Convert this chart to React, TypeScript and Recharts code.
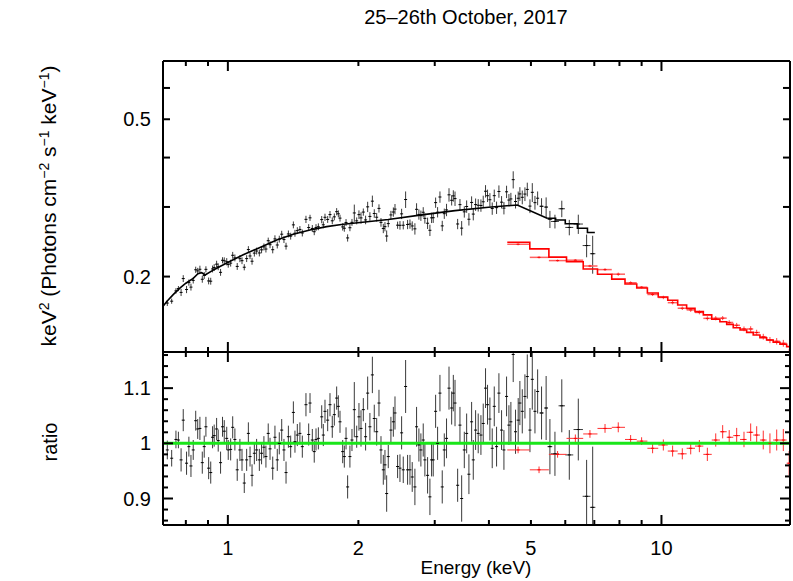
import React from "react"
import { ComposedChart, Scatter, Line, XAxis, YAxis, ErrorBar, ReferenceLine } from "recharts"

// black spectrum (0.7 - 5.2 keV): energy, flux, data/model ratio, relative error
const blackE = [
  0.725, 0.742, 0.759, 0.769, 0.78, 0.789, 0.803, 0.813, 0.822, 0.832,
  0.843, 0.852, 0.862, 0.873, 0.882, 0.89, 0.903, 0.913, 0.922, 0.93,
  0.942, 0.95, 0.962, 0.972, 0.981, 0.994, 1.002, 1.015, 1.026, 1.038,
  1.051, 1.066, 1.078, 1.091, 1.105, 1.115, 1.125, 1.137, 1.151, 1.165,
  1.182, 1.196, 1.211, 1.224, 1.239, 1.251, 1.269, 1.284, 1.3, 1.314,
  1.331, 1.347, 1.362, 1.379, 1.396, 1.416, 1.428, 1.446, 1.466, 1.485,
  1.514, 1.536, 1.547, 1.566, 1.582, 1.597, 1.617, 1.646, 1.66, 1.675,
  1.699, 1.72, 1.741, 1.76, 1.782, 1.798, 1.814, 1.84, 1.856, 1.873,
  1.889, 1.912, 1.933, 1.957, 1.982,
  2.006, 2.028, 2.053, 2.078, 2.101, 2.126, 2.154, 2.176, 2.204, 2.231,
  2.255, 2.283, 2.303, 2.324, 2.344, 2.377, 2.408, 2.429, 2.463, 2.494,
  2.516, 2.538, 2.57, 2.597, 2.63, 2.662, 2.7, 2.724, 2.758, 2.787,
  2.822, 2.847, 2.888, 2.924, 2.95, 2.976, 3.014, 3.046, 3.084, 3.122,
  3.156, 3.194, 3.236, 3.282, 3.311, 3.341, 3.388, 3.43, 3.461, 3.51,
  3.554, 3.597, 3.649, 3.681, 3.727, 3.779, 3.834, 3.881, 3.929, 3.971,
  4.021, 4.071, 4.115, 4.166, 4.218, 4.278, 4.332, 4.393, 4.448, 4.495,
  4.551, 4.607, 4.673, 4.715, 4.775, 4.843, 4.904, 4.974, 5.036, 5.108, 5.181,
]
const blackFlux = [
  0.1714, 0.1733, 0.184, 0.1865, 0.1824, 0.1977, 0.1855, 0.1931, 0.1881, 0.1956,
  0.2081, 0.2067, 0.2087, 0.1969, 0.2013, 0.2086, 0.195, 0.1947, 0.2091, 0.2108,
  0.215, 0.2118, 0.205, 0.2199, 0.2193, 0.2181, 0.2145, 0.2163, 0.2264, 0.223,
  0.2122, 0.222, 0.2194, 0.2112, 0.2221, 0.2341, 0.2255, 0.2187, 0.2293, 0.2321,
  0.2295, 0.2337, 0.2377, 0.2348, 0.2465, 0.2408, 0.2339, 0.2491, 0.2404, 0.2488,
  0.256, 0.2481, 0.2388, 0.2564, 0.2531, 0.2703, 0.2574, 0.2614, 0.2632, 0.2578,
  0.2791, 0.2661, 0.2816, 0.2647, 0.2597, 0.2661, 0.2673, 0.2787, 0.2704, 0.2825,
  0.279, 0.287, 0.2768, 0.2832, 0.2919, 0.2883, 0.2811, 0.2671, 0.265, 0.2741,
  0.2505, 0.2658, 0.2743, 0.2897, 0.2767,
  0.2869, 0.2815, 0.2912, 0.2782, 0.3002, 0.2839, 0.3103, 0.2888, 0.2826, 0.2975,
  0.2743, 0.2647, 0.2675, 0.2533, 0.2723, 0.2864, 0.2913, 0.2963, 0.2698, 0.2696,
  0.2882, 0.2697, 0.3133, 0.2709, 0.2716, 0.2686, 0.2641, 0.2959, 0.2872, 0.2852,
  0.2909, 0.2807, 0.2729, 0.2619, 0.2816, 0.2818, 0.3077, 0.291, 0.3179, 0.2687,
  0.2885, 0.2949, 0.322, 0.3119, 0.32, 0.315, 0.2717, 0.3041, 0.2652, 0.2916,
  0.3008, 0.2793, 0.308, 0.2878, 0.3042, 0.303, 0.3026, 0.3092, 0.3288, 0.3203,
  0.3129, 0.2973, 0.3204, 0.2988, 0.3283, 0.3085, 0.298, 0.3277, 0.3123, 0.3144,
  0.3517, 0.3097, 0.3156, 0.3237, 0.3174, 0.3234, 0.3323, 0.3015, 0.3267, 0.3076, 0.3157,
]
const blackRatio = [
  0.988, 0.973, 1.007, 1.006, 0.97, 1.042, 0.964, 0.994, 0.959, 0.988,
  1.041, 1.026, 1.027, 0.965, 0.994, 1.03, 0.955, 0.947, 1.011, 1.014,
  1.026, 1.005, 0.965, 1.03, 1.022, 1.009, 0.988, 0.989, 1.029, 1.007,
  0.952, 0.988, 0.97, 0.928, 0.97, 1.018, 0.976, 0.942, 0.982, 0.988,
  0.97, 0.982, 0.993, 0.976, 1.018, 0.99, 0.955, 1.011, 0.97, 1.0,
  1.024, 0.988, 0.947, 1.012, 0.994, 1.056, 1.003, 1.015, 1.018, 0.994,
  1.07, 1.016, 1.073, 1.006, 0.985, 1.007, 1.009, 1.048, 1.015, 1.058,
  1.042, 1.07, 1.03, 1.052, 1.082, 1.067, 1.039, 0.985, 0.976, 1.009,
  0.921, 0.976, 1.006, 1.061, 1.012,
  1.048, 1.027, 1.061, 1.012, 1.091, 1.03, 1.124, 1.045, 1.021, 1.073,
  0.988, 0.952, 0.961, 0.909, 0.976, 1.024, 1.039, 1.055, 0.958, 0.955,
  1.019, 0.952, 1.103, 0.952, 0.952, 0.939, 0.921, 1.03, 0.997, 0.988,
  1.006, 0.97, 0.942, 0.903, 0.97, 0.97, 1.058, 1.0, 1.091, 0.921,
  0.988, 1.009, 1.1, 1.064, 1.091, 1.073, 0.924, 1.033, 0.9, 0.988,
  1.018, 0.944, 1.039, 0.97, 1.024, 1.018, 1.015, 1.036, 1.1, 1.07,
  1.044, 0.991, 1.067, 0.994, 1.091, 1.024, 0.988, 1.085, 1.033, 1.039,
  1.161, 1.021, 1.042, 1.073, 1.058, 1.085, 1.121, 1.024, 1.116, 1.058, 1.094,
]
const blackErr = [
  0.017, 0.015, 0.016, 0.015, 0.021, 0.02, 0.021, 0.018, 0.02, 0.018,
  0.018, 0.018, 0.021, 0.02, 0.02, 0.018, 0.02, 0.02, 0.02, 0.02,
  0.02, 0.02, 0.02, 0.018, 0.02, 0.021, 0.018, 0.02, 0.02, 0.02,
  0.02, 0.02, 0.02, 0.018, 0.02, 0.02, 0.018, 0.02, 0.02, 0.02,
  0.02, 0.02, 0.02, 0.02, 0.018, 0.02, 0.021, 0.021, 0.02, 0.02,
  0.02, 0.02, 0.02, 0.02, 0.02, 0.02, 0.02, 0.02, 0.02, 0.02,
  0.021, 0.02, 0.018, 0.02, 0.02, 0.02, 0.02, 0.021, 0.02, 0.021,
  0.02, 0.021, 0.02, 0.02, 0.021, 0.02, 0.02, 0.021, 0.02, 0.02,
  0.021, 0.02, 0.02, 0.05, 0.02,
  0.025, 0.033, 0.021, 0.025, 0.03, 0.025, 0.033, 0.025, 0.025, 0.024,
  0.025, 0.027, 0.027, 0.033, 0.021, 0.024, 0.027, 0.03, 0.021, 0.025,
  0.03, 0.024, 0.048, 0.027, 0.027, 0.027, 0.033, 0.036, 0.03, 0.03,
  0.03, 0.03, 0.033, 0.033, 0.03, 0.03, 0.03, 0.03, 0.033, 0.03,
  0.03, 0.036, 0.039, 0.03, 0.033, 0.042, 0.03, 0.033, 0.042, 0.033,
  0.036, 0.036, 0.036, 0.036, 0.036, 0.036, 0.036, 0.036, 0.036, 0.036,
  0.039, 0.036, 0.036, 0.036, 0.036, 0.036, 0.036, 0.036, 0.036, 0.036,
  0.05, 0.04, 0.04, 0.04, 0.04, 0.04, 0.04, 0.04, 0.055, 0.04, 0.04,
]

// black spectrum, wider bins above 5.2 keV
const blackHiE = [5.29, 5.42, 5.53, 5.68, 5.89, 6.13, 6.43, 6.72, 6.94]
const blackHiBin = [0.06, 0.05, 0.07, 0.12, 0.1, 0.13, 0.16, 0.14, 0.1]
const blackHiFlux = [0.3012, 0.2998, 0.2793, 0.2757, 0.2969, 0.2663, 0.2716, 0.2396, 0.2285]
const blackHiRatio = [1.055, 1.064, 0.994, 0.981, 1.068, 0.979, 1.025, 0.904, 0.884]
const blackHiErr = [0.048, 0.058, 0.05, 0.04, 0.048, 0.045, 0.056, 0.066, 0.11]

// black model
const blackModelE = [0.708, 0.723, 0.748, 0.775, 0.8, 0.832, 0.853, 0.87, 0.886, 0.931, 0.959, 1.015, 1.085, 1.186, 1.296, 1.415, 1.546, 1.69, 1.845, 2.02, 2.344, 2.8, 3.34, 3.99, 4.65, 5.45]
const blackModelF = [0.168, 0.173, 0.18, 0.187, 0.1924, 0.198, 0.2035, 0.2046, 0.2019, 0.2085, 0.212, 0.219, 0.227, 0.237, 0.2475, 0.256, 0.2624, 0.2675, 0.2713, 0.274, 0.279, 0.2865, 0.2936, 0.2995, 0.3035, 0.281]
const blackStepE = [5.45, 5.7, 6.0, 6.4, 6.75, 7.02]
const blackStepF = [0.281, 0.278, 0.272, 0.265, 0.2585, 0.2585]

// red spectrum: bin edges, model per bin, data
const redEdges = [4.41, 4.97, 5.5, 6.04, 6.6, 7.12, 7.68, 8.24, 8.77, 9.28, 9.83, 10.34, 10.9, 11.43, 11.95, 12.49, 13.06, 13.64, 14.14, 14.64, 15.18, 15.72, 16.28, 16.87, 17.48, 18.1, 18.76, 19.44, 20.1]
const redModel = [0.2443, 0.235, 0.224, 0.218, 0.2091, 0.2028, 0.1971, 0.1916, 0.1872, 0.1818, 0.1776, 0.1742, 0.1695, 0.1662, 0.1631, 0.16, 0.156, 0.1538, 0.1514, 0.1485, 0.1465, 0.1445, 0.1423, 0.1401, 0.1382, 0.1364, 0.1348, 0.133]
const redE = [4.67, 5.22, 5.76, 6.33, 6.84, 7.41, 7.95, 8.49, 9.0, 9.54, 10.1, 10.61, 11.17, 11.68, 12.23, 12.76, 13.34, 13.84, 14.33, 14.91, 15.5, 16.06, 16.58, 17.17, 17.79, 18.44, 19.1, 19.7]
const redFlux = [0.2414, 0.2237, 0.2195, 0.22, 0.2127, 0.2083, 0.2028, 0.1929, 0.188, 0.1802, 0.1771, 0.1718, 0.1663, 0.1647, 0.1623, 0.1568, 0.1569, 0.157, 0.1531, 0.1506, 0.1475, 0.1474, 0.1444, 0.1409, 0.1382, 0.1372, 0.1356, 0.1282]
const redRatio = [0.988, 0.952, 0.98, 1.009, 1.017, 1.027, 1.029, 1.007, 1.004, 0.991, 0.997, 0.986, 0.981, 0.991, 0.995, 0.98, 1.006, 1.021, 1.011, 1.014, 1.007, 1.02, 1.015, 1.006, 1.0, 1.006, 1.006, 0.964]
const redErr = [0.006, 0.006, 0.006, 0.007, 0.007, 0.008, 0.009, 0.008, 0.007, 0.009, 0.01, 0.01, 0.01, 0.011, 0.011, 0.012, 0.012, 0.012, 0.013, 0.014, 0.014, 0.016, 0.016, 0.017, 0.018, 0.019, 0.02, 0.022]

// axes
const xDomain = [0.7086, 19.79]
const xTicks = [0.8, 0.9, 1, 2, 3, 4, 5, 6, 7, 8, 9, 10]
const xLabels = [1, 2, 5, 10]
const xMajor = [1, 10]
const fluxDomain = [0.1289, 0.702]
const fluxTicks = [0.2, 0.3, 0.4, 0.5, 0.6]
const fluxLabels = [0.2, 0.5]
const ratioDomain = [0.852, 1.1655]
const ratioTicks = [0.86, 0.88, 0.9, 0.92, 0.94, 0.96, 0.98, 1, 1.02, 1.04, 1.06, 1.08, 1.1, 1.12, 1.14, 1.16]
const ratioLabels = [0.9, 1, 1.1]
const ratioMajor = [0.9, 1, 1.1]

const FONT = "'Liberation Sans', Arial, Helvetica, sans-serif"
const FS = 20

const blackTop = blackE.map((x, i) => ({ x, y: blackFlux[i], ey: blackFlux[i] * blackErr[i] }))
const blackBot = blackE.map((x, i) => ({ x, y: blackRatio[i], ey: blackErr[i] }))
const blackHiTop = blackHiE.map((x, i) => ({ x, y: blackHiFlux[i], ey: blackHiFlux[i] * blackHiErr[i], ex: blackHiBin[i] }))
const blackHiBot = blackHiE.map((x, i) => ({ x, y: blackHiRatio[i], ey: blackHiErr[i], ex: blackHiBin[i] }))
const blackModel = blackModelE.map((x, i) => ({ x, y: blackModelF[i] }))
const blackStep = blackStepE.map((x, i) => ({ x, y: blackStepF[i] }))
const redBins = redE.map((x, i) => [x - redEdges[i], redEdges[i + 1] - x])
const redTop = redE.map((x, i) => ({ x, y: redFlux[i], ey: redFlux[i] * redErr[i], ex: redBins[i] }))
const redBot = redE.map((x, i) => ({ x, y: redRatio[i], ey: redErr[i], ex: redBins[i] }))
const redStep = redEdges.map((x, i) => ({ x, y: redModel[Math.min(i, redModel.length - 1)] }))

type Side = "top" | "bottom" | "left" | "right"

function makeTick(side: Side, major: number[], labels: number[], majorLen: number, minorLen: number) {
  return (p: any) => {
    const v = p.payload.value
    const len = major.includes(v) ? majorLen : minorLen
    const { x, y } = p
    let x2 = x
    let y2 = y
    if (side === "bottom") y2 = y - len
    if (side === "top") y2 = y + len
    if (side === "left") x2 = x + len
    if (side === "right") x2 = x - len
    let label = null
    if (labels.includes(v)) {
      if (side === "bottom")
        label = <text x={x} y={y + 30} textAnchor="middle" fontSize={FS} fontFamily={FONT} fill="#000">{v}</text>
      if (side === "left")
        label = <text x={x - 12} y={y + 7} textAnchor="end" fontSize={FS} fontFamily={FONT} fill="#000">{v}</text>
    }
    return (
      <g>
        <line x1={x} y1={y} x2={x2} y2={y2} stroke="#000" strokeWidth={2} />
        {label}
      </g>
    )
  }
}

const Dash = (color: string) => (p: any) =>
  <line x1={p.cx - 1.5} x2={p.cx + 1.5} y1={p.cy} y2={p.cy} stroke={color} strokeWidth={1} />

const axisLine = { stroke: "#000", strokeWidth: 2 }

// axes need a non-zero size or recharts skips them; margins below absorb the 1px
function xAxes(bottomLabels: number[]) {
  return [
    <XAxis key="b" xAxisId="b" dataKey="x" type="number" scale="log" domain={xDomain} allowDataOverflow
      ticks={xTicks} interval={0} height={1} tickSize={0} tickMargin={0} axisLine={axisLine} tickLine={false}
      tick={makeTick("bottom", xMajor, bottomLabels, 10, 5)} />,
    <XAxis key="t" xAxisId="t" orientation="top" dataKey="x" type="number" scale="log" domain={xDomain} allowDataOverflow
      ticks={xTicks} interval={0} height={1} tickSize={0} tickMargin={0} axisLine={axisLine} tickLine={false}
      tick={makeTick("top", xMajor, [], 10, 5)} />,
  ]
}

function TopPanel() {
  return (
    <ComposedChart width={793} height={362} margin={{ top: 60, right: 2, bottom: 9, left: 162 }}>
      {xAxes([])}
      <YAxis yAxisId="l" dataKey="y" type="number" scale="log" domain={fluxDomain} allowDataOverflow
        ticks={fluxTicks} interval={0} width={1} tickSize={0} tickMargin={0} axisLine={axisLine} tickLine={false}
        tick={makeTick("left", [], fluxLabels, 7, 7)} />
      <YAxis yAxisId="r" orientation="right" dataKey="y" type="number" scale="log" domain={fluxDomain} allowDataOverflow
        ticks={fluxTicks} interval={0} width={1} tickSize={0} tickMargin={0} axisLine={axisLine} tickLine={false}
        tick={makeTick("right", [], [], 7, 7)} />
      <Scatter data={blackTop} xAxisId="b" yAxisId="l" shape={Dash("#000")} isAnimationActive={false}>
        <ErrorBar dataKey="ey" direction="y" width={0} stroke="#3a3a3a" strokeWidth={1} />
      </Scatter>
      <Scatter data={blackHiTop} xAxisId="b" yAxisId="l" shape={Dash("#000")} isAnimationActive={false}>
        <ErrorBar dataKey="ey" direction="y" width={0} stroke="#3a3a3a" strokeWidth={1} />
        <ErrorBar dataKey="ex" direction="x" width={0} stroke="#3a3a3a" strokeWidth={1} />
      </Scatter>
      <Scatter data={redTop} xAxisId="b" yAxisId="l" shape={Dash("#ff0000")} isAnimationActive={false}>
        <ErrorBar dataKey="ey" direction="y" width={0} stroke="#ff4040" strokeWidth={1} />
        <ErrorBar dataKey="ex" direction="x" width={0} stroke="#ff6060" strokeWidth={1.5} />
      </Scatter>
      <Line data={blackModel} dataKey="y" xAxisId="b" yAxisId="l" type="linear" dot={false} stroke="#000" strokeWidth={1.6} isAnimationActive={false} />
      <Line data={blackStep} dataKey="y" xAxisId="b" yAxisId="l" type="stepAfter" dot={false} stroke="#000" strokeWidth={1.6} isAnimationActive={false} />
      <Line data={redStep} dataKey="y" xAxisId="b" yAxisId="l" type="stepAfter" dot={false} stroke="#ff0000" strokeWidth={1.6} isAnimationActive={false} />
    </ComposedChart>
  )
}

function RatioPanel() {
  return (
    <ComposedChart width={793} height={241} margin={{ top: 11, right: 2, bottom: 55, left: 162 }}>
      {xAxes(xLabels)}
      <YAxis yAxisId="l" dataKey="y" type="number" domain={ratioDomain} allowDataOverflow
        ticks={ratioTicks} interval={0} width={1} tickSize={0} tickMargin={0} axisLine={axisLine} tickLine={false}
        tick={makeTick("left", ratioMajor, ratioLabels, 10, 5)} />
      <YAxis yAxisId="r" orientation="right" dataKey="y" type="number" domain={ratioDomain} allowDataOverflow
        ticks={ratioTicks} interval={0} width={1} tickSize={0} tickMargin={0} axisLine={axisLine} tickLine={false}
        tick={makeTick("right", ratioMajor, [], 10, 5)} />
      <Scatter data={blackBot} xAxisId="b" yAxisId="l" shape={Dash("#000")} isAnimationActive={false}>
        <ErrorBar dataKey="ey" direction="y" width={0} stroke="#3a3a3a" strokeWidth={1} />
      </Scatter>
      <Scatter data={blackHiBot} xAxisId="b" yAxisId="l" shape={Dash("#000")} isAnimationActive={false}>
        <ErrorBar dataKey="ey" direction="y" width={0} stroke="#3a3a3a" strokeWidth={1} />
        <ErrorBar dataKey="ex" direction="x" width={0} stroke="#3a3a3a" strokeWidth={1} />
      </Scatter>
      <Scatter data={redBot} xAxisId="b" yAxisId="l" shape={Dash("#ff0000")} isAnimationActive={false}>
        <ErrorBar dataKey="ey" direction="y" width={0} stroke="#ff3030" strokeWidth={1} />
        <ErrorBar dataKey="ex" direction="x" width={0} stroke="#ff3030" strokeWidth={1} />
      </Scatter>
      <ReferenceLine y={1} xAxisId="b" yAxisId="l" stroke="#19e619" strokeWidth={3} />
    </ComposedChart>
  )
}

// error bars are not clipped by recharts, so clip the data layers to each plot box
const clipCss = `
.panel-top .recharts-scatter, .panel-top [class*="recharts-errorBar"], .panel-top .recharts-line { clip-path: url(#clipTop); }
.panel-ratio .recharts-scatter, .panel-ratio [class*="recharts-errorBar"], .panel-ratio .recharts-line { clip-path: url(#clipRatio); }
`

const textStyle: React.CSSProperties = {
  position: "absolute",
  fontFamily: FONT,
  fontSize: FS,
  color: "#000",
  whiteSpace: "nowrap",
  lineHeight: 1,
  transform: "translate(-50%, -50%)",
}
const sup: React.CSSProperties = { fontSize: 14, verticalAlign: "7px" }

export default function App() {
  return (
    <div style={{ position: "absolute", left: 0, top: 0, width: 793, height: 581, background: "#fff", overflow: "hidden" }}>
      <style>{clipCss}</style>
      <svg width={0} height={0} style={{ position: "absolute" }}>
        <defs>
          <clipPath id="clipTop">
            <rect x={163} y={61} width={627} height={291} />
          </clipPath>
          <clipPath id="clipRatio">
            <rect x={163} y={12} width={627} height={173} />
          </clipPath>
        </defs>
      </svg>
      <div className="panel-top" style={{ position: "absolute", left: 0, top: 0 }}>
        <TopPanel />
      </div>
      <div className="panel-ratio" style={{ position: "absolute", left: 0, top: 340 }}>
        <RatioPanel />
      </div>
      <div style={{ ...textStyle, left: 466, top: 17 }}>25–26th October, 2017</div>
      <div style={{ ...textStyle, fontSize: 21, left: 48, top: 206, transform: "translate(-50%, -50%) rotate(-90deg)" }}>
        keV<span style={sup}>2</span> (Photons cm<span style={sup}>−2</span> s<span style={sup}>−1</span> keV<span style={sup}>−1</span>)
      </div>
      <div style={{ ...textStyle, left: 50, top: 442, transform: "translate(-50%, -50%) rotate(-90deg)" }}>ratio</div>
      <div style={{ ...textStyle, fontSize: 19, left: 476, top: 567 }}>Energy (keV)</div>
    </div>
  )
}
